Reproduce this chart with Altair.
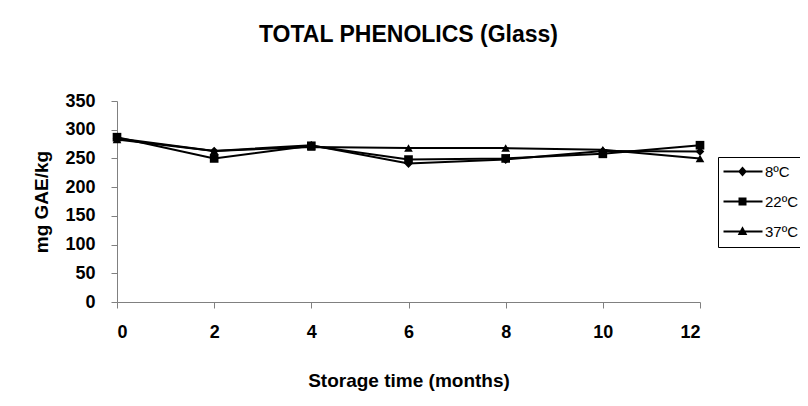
import altair as alt
import pandas as pd

months = [0, 2, 4, 6, 8, 10, 12]
series_names = ["8ºC", "22ºC", "37ºC"]
v8 = [285, 263, 273, 241, 248, 263, 262]
v22 = [287, 250, 272, 248, 250, 258, 273]
v37 = [283, 263, 270, 268, 268, 265, 250]
y_ticks = [0, 50, 100, 150, 200, 250, 300, 350]
x_ticks = [0, 2, 4, 6, 8, 10, 12]

rows = []
for name, vals in zip(series_names, [v8, v22, v37]):
    for m, v in zip(months, vals):
        rows.append({"month": m, "value": v, "series": name})
df = pd.DataFrame(rows)

FONT = "Liberation Sans"

x_enc = alt.X("month:Q", scale=alt.Scale(domain=[0, 12], nice=False),
              axis=alt.Axis(values=x_ticks, title="Storage time (months)", format="d",
                            labelOverlap=False))
y_enc = alt.Y("value:Q", scale=alt.Scale(domain=[0, 350], nice=False),
              axis=alt.Axis(values=y_ticks, title="mg GAE/kg", labelOverlap=False))

base = alt.Chart(df).encode(x=x_enc, y=y_enc)

lines = base.mark_line(color="black", strokeWidth=2).encode(detail="series:N")

points = base.mark_point(filled=True, color="black", size=75, opacity=1).encode(
    shape=alt.Shape("series:N",
                    scale=alt.Scale(domain=series_names, range=["diamond", "square", "triangle-up"]),
                    legend=None),
)

# legend glyphs: a short horizontal bar with the marker in the middle
legend_paths = [
    "M-2.25,-0.25L7.5,-0.25L7.5,0.25L-2.25,0.25ZM2.5,-1.25L3.6,0L2.5,1.25L1.4,0Z",
    "M-2.25,-0.25L7.5,-0.25L7.5,0.25L-2.25,0.25ZM1.5,-1L3.5,-1L3.5,1L1.5,1Z",
    "M-2.25,-0.25L7.5,-0.25L7.5,0.25L-2.25,0.25ZM2.5,-1.3L3.7,0.85L1.3,0.85Z",
]

legend_layer = base.transform_filter("false").mark_point(filled=True, color="black").encode(
    shape=alt.Shape("series:N",
                    scale=alt.Scale(domain=series_names, range=legend_paths),
                    legend=alt.Legend(
                        title=None, orient="none", legendX=601, legendY=56,
                        symbolSize=64, symbolFillColor="black", symbolStrokeColor="black",
                        symbolStrokeWidth=0, symbolOpacity=1,
                        labelOffset=25, labelFont=FONT, labelFontSize=15, labelColor="black",
                        rowPadding=14, padding=7, strokeColor="black",
                    )),
)

chart = alt.layer(lines, points, legend_layer).resolve_scale(shape="independent").properties(
    width=583, height=201,
    title=alt.TitleParams("TOTAL PHENOLICS (Glass)", font=FONT, fontSize=23, fontWeight="bold",
                          color="black", anchor="middle", offset=45),
    autosize=alt.AutoSizeParams(type="none"),
    padding={"left": 109, "top": 93, "right": 100, "bottom": 94},
    background="white",
).configure_view(stroke=None).configure_axis(
    grid=False, domainColor="#808080", tickColor="#808080", domainWidth=1, tickWidth=1,
    tickSize=6, labelFont=FONT, labelFontSize=18, labelFontWeight="bold", labelColor="black",
    titleFont=FONT, titleFontSize=19, titleFontWeight="bold", titleColor="black",
).configure_axisX(labelPadding=15, titlePadding=30).configure_axisY(labelPadding=16, titlePadding=13)

chart.save("out.html", embed_options={"renderer": "svg", "actions": False})
